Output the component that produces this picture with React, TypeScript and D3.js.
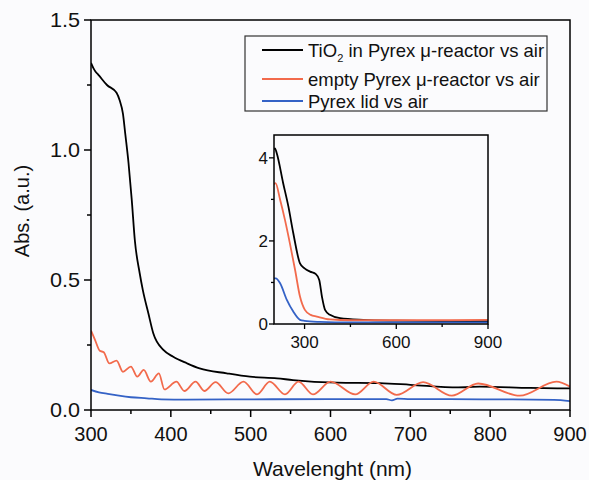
import React from "react";
import * as d3 from "d3";

// ---- main plot data (wavelength nm, absorbance a.u.) ----
const tio2Main: [number, number][] = [
  [300, 1.335], [303, 1.315], [306, 1.3], [309, 1.29], [320, 1.25], [332, 1.22], [336, 1.19],
  [340, 1.14], [343, 1.06], [347, 0.95], [351, 0.81], [355, 0.65], [361, 0.526], [365, 0.46],
  [372, 0.37], [378, 0.295], [391, 0.23], [403, 0.205], [420, 0.18], [436, 0.16], [470, 0.141],
  [499, 0.128], [533, 0.122], [553, 0.115], [608, 0.105], [662, 0.103], [700, 0.097],
  [760, 0.087], [787, 0.09], [850, 0.085], [900, 0.083],
];
const emptyMain: [number, number][] = [
  [300, 0.305], [305, 0.27], [311, 0.228], [316, 0.222], [323, 0.179], [332, 0.19], [340, 0.147],
  [350, 0.167], [358, 0.128], [366, 0.154], [375, 0.109], [385, 0.141], [392, 0.079],
  [407, 0.109], [417, 0.073], [431, 0.109], [442, 0.073], [456, 0.107], [472, 0.064],
  [491, 0.109], [508, 0.06], [524, 0.109], [543, 0.06], [560, 0.109], [578, 0.06],
  [600, 0.109], [631, 0.06], [654, 0.109], [683, 0.058], [716, 0.107], [752, 0.055],
  [785, 0.102], [837, 0.055], [883, 0.109], [900, 0.09],
];
const lidMain: [number, number][] = [
  [300, 0.077], [310, 0.068], [321, 0.062], [335, 0.055], [350, 0.049], [370, 0.045],
  [388, 0.041], [420, 0.04], [500, 0.041], [600, 0.042], [670, 0.042], [677, 0.037],
  [684, 0.044], [700, 0.042], [800, 0.041], [880, 0.039], [900, 0.034],
];

// ---- inset data ----
const tio2Inset: [number, number][] = [
  [200, 4.2], [203, 4.23], [209, 4.11], [230, 3.39], [247, 2.83], [263, 2.19], [285, 1.46],
  [300, 1.34], [318, 1.26], [337, 1.2], [348, 1.06], [357, 0.65], [367, 0.34], [383, 0.22],
  [416, 0.14], [492, 0.1], [600, 0.08], [750, 0.07], [900, 0.07],
];
const emptyInset: [number, number][] = [
  [200, 3.36], [205, 3.39], [220, 2.99], [236, 2.5], [252, 1.94], [269, 1.3], [285, 0.66],
  [301, 0.34], [320, 0.22], [340, 0.18], [383, 0.11], [450, 0.09], [600, 0.09], [750, 0.09], [900, 0.1],
];
const lidInset: [number, number][] = [
  [200, 1.1], [206, 1.1], [220, 0.98], [242, 0.58], [263, 0.3], [285, 0.1], [300, 0.077],
  [350, 0.05], [400, 0.04], [900, 0.04],
];

const mainXTicks = [300, 400, 500, 600, 700, 800, 900];
const mainXMinor = [350, 450, 550, 650, 750, 850];
const mainYTicks = [0, 0.5, 1.0, 1.5];
const mainYMinor = [0.25, 0.75, 1.25];
const insetXTicks = [300, 600, 900];
const insetXMinor = [450, 750];
const insetYTicks = [0, 2, 4];
const insetYMinor = [1, 3];

const legendLabels = ["TiO", "empty Pyrex μ-reactor vs air", "Pyrex lid vs air"];
const colors = ["#000000", "#f26a4c", "#3462c6"];

const FONT = "'Liberation Sans', Arial, sans-serif";

export default function App() {
  const W = 589, H = 480;
  const m = { l: 91, r: 570, t: 20, b: 410 };
  const x = d3.scaleLinear().domain([300, 900]).range([m.l, m.r]);
  const y = d3.scaleLinear().domain([0, 1.5]).range([m.b, m.t]);

  const ins = { l: 274, r: 488, t: 135, b: 324 };
  const xi = d3.scaleLinear().domain([200, 900]).range([ins.l, ins.r]);
  const yi = d3.scaleLinear().domain([0, 4.55]).range([ins.b, ins.t]);

  const lineMain = d3.line<[number, number]>().x(d => x(d[0])).y(d => y(d[1])).curve(d3.curveMonotoneX);
  const lineInset = d3.line<[number, number]>().x(d => xi(d[0])).y(d => yi(d[1])).curve(d3.curveMonotoneX);

  const mainSeries = [tio2Main, emptyMain, lidMain];
  const insetSeries = [tio2Inset, emptyInset, lidInset];

  return (
    <svg width={W} height={H} style={{ display: "block", position: "absolute", left: 0, top: 0 }} fontFamily={FONT}>
      <rect x={0} y={0} width={W} height={H} fill="#fbfbfd" />
      <defs>
        <clipPath id="mainClip"><rect x={m.l} y={m.t} width={m.r - m.l} height={m.b - m.t} /></clipPath>
        <clipPath id="insClip"><rect x={ins.l} y={ins.t} width={ins.r - ins.l} height={ins.b - ins.t} /></clipPath>
      </defs>

      {/* main series */}
      <g clipPath="url(#mainClip)">
        {mainSeries.map((s, i) => (
          <path key={i} d={lineMain(s) || ""} fill="none" stroke={colors[i]} strokeWidth={1.8} strokeLinejoin="round" />
        ))}
      </g>

      {/* main frame */}
      <rect x={m.l} y={m.t} width={m.r - m.l} height={m.b - m.t} fill="none" stroke="#000" strokeWidth={1.5} />
      {mainXTicks.map(t => (
        <g key={"mx" + t}>
          <line x1={x(t)} x2={x(t)} y1={m.b} y2={m.b + 7} stroke="#000" strokeWidth={1.5} />
          <text x={x(t)} y={m.b + 31} textAnchor="middle" fontSize={20} fill="#111">{t}</text>
        </g>
      ))}
      {mainXMinor.map(t => (
        <line key={"mxm" + t} x1={x(t)} x2={x(t)} y1={m.b} y2={m.b + 4} stroke="#000" strokeWidth={1.5} />
      ))}
      {mainYTicks.map(t => (
        <g key={"my" + t}>
          <line x1={m.l - 7} x2={m.l} y1={y(t)} y2={y(t)} stroke="#000" strokeWidth={1.5} />
          <text transform={`translate(${m.l - 11},${y(t) + 7}) scale(1.08,1)`} textAnchor="end" fontSize={20} fill="#111">{t.toFixed(1)}</text>
        </g>
      ))}
      {mainYMinor.map(t => (
        <line key={"mym" + t} x1={m.l - 4} x2={m.l} y1={y(t)} y2={y(t)} stroke="#000" strokeWidth={1.5} />
      ))}
      <text x={(m.l + m.r) / 2 + 2} y={476} textAnchor="middle" fontSize={21} fill="#111">Wavelenght (nm)</text>
      <text transform={`translate(29,211) rotate(-90)`} textAnchor="middle" fontSize={20} fill="#111">Abs. (a.u.)</text>

      {/* legend */}
      <rect x={245} y={36} width={302} height={75} fill="#fbfbfd" stroke="#333" strokeWidth={1.2} />
      {[50, 79, 101].map((ly, i) => (
        <g key={"lg" + i}>
          <line x1={262} x2={303} y1={ly} y2={ly} stroke={colors[i]} strokeWidth={1.8} />
          {i === 0 ? (
            <text x={308} y={ly + 7} fontSize={18.5} fill="#111">
              {legendLabels[0]}<tspan fontSize={11} dy={5}>2</tspan><tspan dy={-5}> in Pyrex μ-reactor vs air</tspan>
            </text>
          ) : (
            <text x={308} y={ly + 7} fontSize={18.5} fill="#111">{legendLabels[i]}</text>
          )}
        </g>
      ))}

      {/* inset */}
      <rect x={ins.l} y={ins.t} width={ins.r - ins.l} height={ins.b - ins.t} fill="#fbfbfd" />
      <g clipPath="url(#insClip)">
        {insetSeries.map((s, i) => (
          <path key={i} d={lineInset(s) || ""} fill="none" stroke={colors[i]} strokeWidth={1.8} strokeLinejoin="round" />
        ))}
      </g>
      <rect x={ins.l} y={ins.t} width={ins.r - ins.l} height={ins.b - ins.t} fill="none" stroke="#000" strokeWidth={1.5} />
      {insetXTicks.map(t => (
        <g key={"ix" + t}>
          <line x1={xi(t)} x2={xi(t)} y1={ins.b} y2={ins.b + 5} stroke="#000" strokeWidth={1.3} />
          <text x={xi(t)} y={ins.b + 24} textAnchor="middle" fontSize={17} fill="#111">{t}</text>
        </g>
      ))}
      {insetXMinor.map(t => (
        <line key={"ixm" + t} x1={xi(t)} x2={xi(t)} y1={ins.b} y2={ins.b + 3} stroke="#000" strokeWidth={1.3} />
      ))}
      {insetYTicks.map(t => (
        <g key={"iy" + t}>
          <line x1={ins.l - 5} x2={ins.l} y1={yi(t)} y2={yi(t)} stroke="#000" strokeWidth={1.3} />
          <text x={ins.l - 6} y={yi(t) + 6} textAnchor="end" fontSize={17} fill="#111">{t}</text>
        </g>
      ))}
      {insetYMinor.map(t => (
        <line key={"iym" + t} x1={ins.l - 3} x2={ins.l} y1={yi(t)} y2={yi(t)} stroke="#000" strokeWidth={1.3} />
      ))}
    </svg>
  );
}
